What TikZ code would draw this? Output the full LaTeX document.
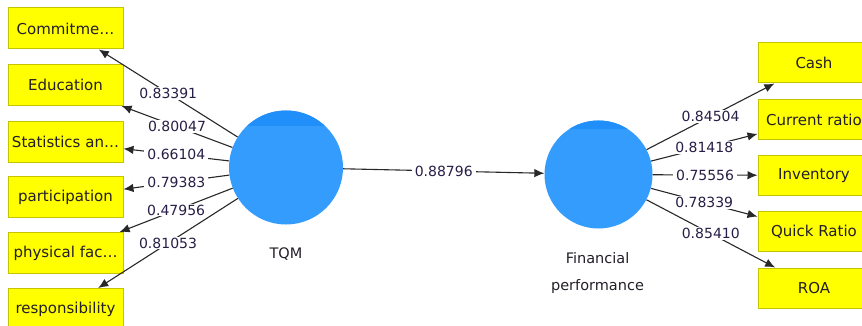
\documentclass[tikz,border=0pt]{standalone}
\usepackage{fontspec}
\setmainfont{DejaVu Sans}
\usetikzlibrary{arrows.meta}

\definecolor{lvblue}{RGB}{52,156,252}
\definecolor{lvband}{RGB}{32,143,250}
\definecolor{mvfill}{RGB}{255,255,0}
\definecolor{mvedge}{RGB}{196,196,0}
\definecolor{linkgray}{RGB}{40,40,40}
\definecolor{txt}{RGB}{35,30,40}
\definecolor{numtxt}{RGB}{40,30,70}

\begin{document}
\begin{tikzpicture}[x=1pt,y=-1pt,
  indicator/.style={draw=mvedge, line width=1pt, fill=mvfill,
    minimum height=41pt, inner sep=0pt,
    font=\fontsize{15}{18}\selectfont, text=txt},
  leftind/.style={indicator, minimum width=115pt},
  rightind/.style={indicator, minimum width=112pt, minimum height=40pt},
  latent/.style={circle, fill=lvblue, inner sep=0pt,
    path picture={\fill[lvband] (path picture bounding box.north west)
      rectangle ([yshift=-#1]path picture bounding box.north east);}},
  lvname/.style={font=\fontsize{14.5}{27}\selectfont, text=txt, align=center},
  loading/.style={fill=white, inner xsep=3pt, inner ysep=1pt,
    font=\fontsize{14}{16}\selectfont, text=numtxt},
  link/.style={draw=linkgray, line width=1.1pt,
    -{Latex[length=10pt,width=8.5pt]}}]

\useasboundingbox (0,0) rectangle (862,326);
\clip (0,0) rectangle (862,326);

% latent variables
\node[latent=16pt, minimum size=114pt] (tqm) at (286,167.5) {};
\node[lvname] (tqmname) at (286,254) {TQM};
\node[latent=9pt, minimum size=108pt] (fin) at (598.5,174.5) {};
\node[lvname] (finname) at (597.5,273) {Financial\\performance};

% TQM indicators
\node[leftind] (commit) at (65.5,28.5) {Commitme…};
\node[leftind] (educ)   at (65.5,85)   {Education};
\node[leftind] (stat)   at (65.5,142)  {Statistics an…};
\node[leftind] (part)   at (65.5,197)  {participation};
\node[leftind] (phys)   at (65.5,253)  {physical fac…};
\node[leftind] (resp)   at (65.5,309)  {responsibility};

% financial performance indicators
\node[rightind] (cash)  at (814,63)    {Cash};
\node[rightind] (curr)  at (814,119.5) {Current ratio};
\node[rightind] (inv)   at (814,175.5) {Inventory};
\node[rightind] (quick) at (814,231.5) {Quick Ratio};
\node[rightind] (roa)   at (814,288)   {ROA};

% outer loadings
\draw[link] (tqm) -- node[loading] {0.83391} (commit);
\draw[link] (tqm) -- node[loading] {0.80047} (educ);
\draw[link] (tqm) -- node[loading] {0.66104} (stat);
\draw[link] (tqm) -- node[loading] {0.79383} (part);
\draw[link] (tqm) -- node[loading] {0.47956} (phys);
\draw[link] (tqm) -- node[loading] {0.81053} (resp);

\draw[link] (fin) -- node[loading] {0.84504} (cash);
\draw[link] (fin) -- node[loading] {0.81418} (curr);
\draw[link] (fin) -- node[loading] {0.75556} (inv);
\draw[link] (fin) -- node[loading] {0.78339} (quick);
\draw[link] (fin) -- node[loading] {0.85410} (roa);

% path coefficient
\draw[link] (tqm) -- node[loading] {0.88796} (fin);
\end{tikzpicture}
\end{document}
